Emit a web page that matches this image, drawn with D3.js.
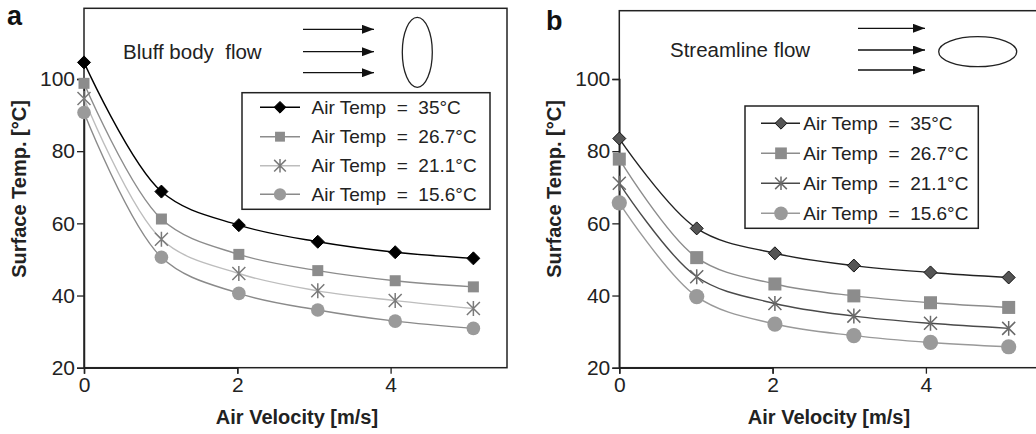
<!DOCTYPE html>
<html><head><meta charset="utf-8">
<script src="https://cdn.jsdelivr.net/npm/d3@7"></script>
<style>body{margin:0;background:#fff}svg{display:block}text{font-family:Arial,"Liberation Sans",sans-serif;white-space:pre}.tick text{font-size:21px}</style>
</head><body><svg id="c" width="1036" height="434"></svg>
<script>
const velA = [0, 1.01, 2.02, 3.05, 4.06, 5.08];
const velB = [0, 1.01, 2.03, 3.06, 4.06, 5.08];
const seriesNames = ["Air Temp  =  35°C", "Air Temp  =  26.7°C", "Air Temp  =  21.1°C", "Air Temp  =  15.6°C"];
const a35 = [104.6, 68.8, 59.5, 54.9, 52.0, 50.3];
const a267 = [98.8, 61.2, 51.4, 46.9, 44.1, 42.4];
const a211 = [94.6, 55.6, 46.1, 41.3, 38.6, 36.4];
const a156 = [90.7, 50.6, 40.6, 36.0, 32.9, 30.9];
const b35 = [83.5, 58.6, 51.7, 48.3, 46.4, 45.0];
const b267 = [77.8, 50.5, 43.2, 39.9, 38.0, 36.7];
const b211 = [71.1, 45.2, 37.8, 34.3, 32.3, 30.9];
const b156 = [65.7, 39.7, 32.1, 28.9, 27.0, 25.8];
const yTicks = [20, 40, 60, 80, 100];
const xTicks = [0, 2, 4];

const svg = d3.select("#c");

function panel(cfg) {
  const g = svg.append("g");
  const x = d3.scaleLinear().domain([0, 2]).range([cfg.x0, cfg.x0 + 153.3]);
  const y = d3.scaleLinear().domain([20, 100]).range([367.7, 79]);
  g.append("rect").attr("x", cfg.x0).attr("y", cfg.top).attr("width", cfg.right - cfg.x0).attr("height", 367.7 - cfg.top)
    .attr("fill", "none").attr("stroke", "#222").attr("stroke-width", 1.5);
  const ya = g.append("g").attr("transform", `translate(${cfg.x0},0)`)
    .call(d3.axisLeft(y).tickValues(yTicks).tickFormat(d3.format("d")).tickSize(7).tickPadding(2));
  const xa = g.append("g").attr("transform", `translate(0,367.7)`)
    .call(d3.axisBottom(x).tickValues(xTicks).tickFormat(d3.format("d")).tickSize(6).tickPadding(3));
  [ya, xa].forEach(a => {
    a.attr("font-family", null).attr("font-size", null);
    a.select(".domain").attr("stroke", "#222").attr("stroke-width", 1.5);
    a.selectAll(".tick line").attr("stroke", "#222").attr("stroke-width", 1.3);
    a.selectAll(".tick text").style("font-size", "21px").attr("fill", "#222");
  });
  g.append("text").attr("transform", `translate(${cfg.ytX},189) rotate(-90)`).attr("text-anchor", "middle")
    .attr("dy", "0.35em").attr("font-size", 20).attr("font-weight", "bold").attr("fill", "#222").text("Surface Temp. [°C]");
  g.append("text").attr("x", cfg.xtX).attr("y", 417).attr("text-anchor", "middle").attr("dy", "0.35em")
    .attr("font-size", 20).attr("font-weight", "bold").attr("fill", "#222").text("Air Velocity [m/s]");
  g.append("text").attr("x", cfg.letX).attr("y", cfg.letY).attr("font-size", 27).attr("font-weight", "bold").attr("fill", "#111").text(cfg.letter);
  g.append("text").attr("x", cfg.flowX).attr("y", cfg.flowY).attr("dy", "0.35em").attr("font-size", 20.5).attr("fill", "#222").text(cfg.flowText);
  const defs = svg.append("defs");
  defs.append("marker").attr("id", "ah" + cfg.letter).attr("viewBox", "0 0 10 10").attr("refX", 10).attr("refY", 5)
    .attr("markerWidth", 12).attr("markerHeight", 9).attr("markerUnits", "userSpaceOnUse").attr("orient", "auto")
    .attr("preserveAspectRatio", "none")
    .append("path").attr("d", "M0,0L10,5L0,10Z").attr("fill", "#111");
  cfg.arrowYs.forEach(ay => {
    g.append("line").attr("x1", cfg.arX1).attr("x2", cfg.arX2).attr("y1", ay).attr("y2", ay)
      .attr("stroke", "#111").attr("stroke-width", 1.3).attr("marker-end", `url(#ah${cfg.letter})`);
  });
  g.append("ellipse").attr("cx", cfg.el[0]).attr("cy", cfg.el[1]).attr("rx", cfg.el[2]).attr("ry", cfg.el[3])
    .attr("fill", "none").attr("stroke", "#222").attr("stroke-width", 1.3);

  const line = d3.line().x(d => x(d[0])).y(d => y(d[1])).curve(d3.curveCatmullRom.alpha(0.5));
  cfg.series.forEach(s => {
    const pts = cfg.vel.map((v, j) => [v, s.vals[j]]);
    g.append("path").attr("d", line(pts)).attr("fill", "none").attr("stroke", s.line).attr("stroke-width", 1.4);
  });
  function marker(sel, s, cx, cy, scale) {
    const k = scale || 1;
    if (s.shape === "diamond") {
      const r = 6.5 * k;
      sel.append("path").attr("d", `M${cx},${cy - r}L${cx + r},${cy}L${cx},${cy + r}L${cx - r},${cy}Z`)
        .attr("fill", s.fill).attr("stroke", s.stroke).attr("stroke-width", 1);
    } else if (s.shape === "square") {
      const r = s.r * k;
      sel.append("rect").attr("x", cx - r).attr("y", cy - r).attr("width", 2 * r).attr("height", 2 * r).attr("fill", s.fill);
    } else if (s.shape === "star") {
      const r = 6.5 * k;
      const p = `M${cx - r},${cy - r}L${cx + r},${cy + r}M${cx + r},${cy - r}L${cx - r},${cy + r}M${cx},${cy - r * 1.15}L${cx},${cy + r * 1.15}`;
      sel.append("path").attr("d", p).attr("stroke", s.fill).attr("stroke-width", 1.5).attr("fill", "none");
    } else {
      sel.append("circle").attr("cx", cx).attr("cy", cy).attr("r", s.r * k).attr("fill", s.fill);
    }
  }
  cfg.series.forEach(s => {
    cfg.vel.forEach((v, j) => marker(g, s, x(v), y(s.vals[j])));
  });
  const L = cfg.leg;
  g.append("rect").attr("x", L.x).attr("y", L.y).attr("width", L.w).attr("height", L.h)
    .attr("fill", "#fff").attr("stroke", "#222").attr("stroke-width", 1.5);
  cfg.series.forEach((s, i) => {
    const ry = L.rows[i];
    g.append("line").attr("x1", L.l1).attr("x2", L.l2).attr("y1", ry).attr("y2", ry).attr("stroke", s.line).attr("stroke-width", 1.4);
    marker(g, s, L.mx, ry, 0.9);
    g.append("text").attr("x", L.tx).attr("y", ry).attr("dy", "0.35em").attr("font-size", 19).attr("fill", "#222").text(seriesNames[i]);
  });
}

panel({
  letter: "a", letX: 7, letY: 25, x0: 84, right: 507, top: 8.3, vel: velA,
  ytX: 19, xtX: 297,
  flowText: "Bluff body  flow", flowX: 123, flowY: 52,
  arrowYs: [29.3, 51.7, 72.7], arX1: 303, arX2: 374, el: [417.3, 52.3, 15, 35],
  series: [
    {vals: a35, shape: "diamond", fill: "#000", stroke: "#000", line: "#000"},
    {vals: a267, shape: "square", fill: "#8c8c8c", line: "#8c8c8c", r: 5.5},
    {vals: a211, shape: "star", fill: "#7a7a7a", line: "#bdbdbd"},
    {vals: a156, shape: "circle", fill: "#9a9a9a", line: "#8a8a8a", r: 6.8}
  ],
  leg: {x: 242, y: 92.7, w: 248, h: 116.6, rows: [107.3, 136.7, 165.7, 194.3], l1: 260, l2: 300, mx: 280, tx: 311.5}
});
panel({
  letter: "b", letX: 546, letY: 30, x0: 619.3, right: 1045, top: 10.7, vel: velB,
  ytX: 554, xtX: 829,
  flowText: "Streamline flow", flowX: 670, flowY: 49.5,
  arrowYs: [28.3, 50, 70], arX1: 858, arX2: 925, el: [977.7, 51.7, 39, 15],
  series: [
    {vals: b35, shape: "diamond", fill: "#555", stroke: "#111", line: "#222"},
    {vals: b267, shape: "square", fill: "#8c8c8c", line: "#8c8c8c", r: 6.5},
    {vals: b211, shape: "star", fill: "#6a6a6a", line: "#4a4a4a"},
    {vals: b156, shape: "circle", fill: "#9a9a9a", line: "#999", r: 7.6}
  ],
  leg: {x: 745, y: 106, w: 233.3, h: 122.3, rows: [123.3, 153.3, 183.3, 213.3], l1: 761, l2: 800, mx: 781, tx: 803.3}
});
</script></body></html>
